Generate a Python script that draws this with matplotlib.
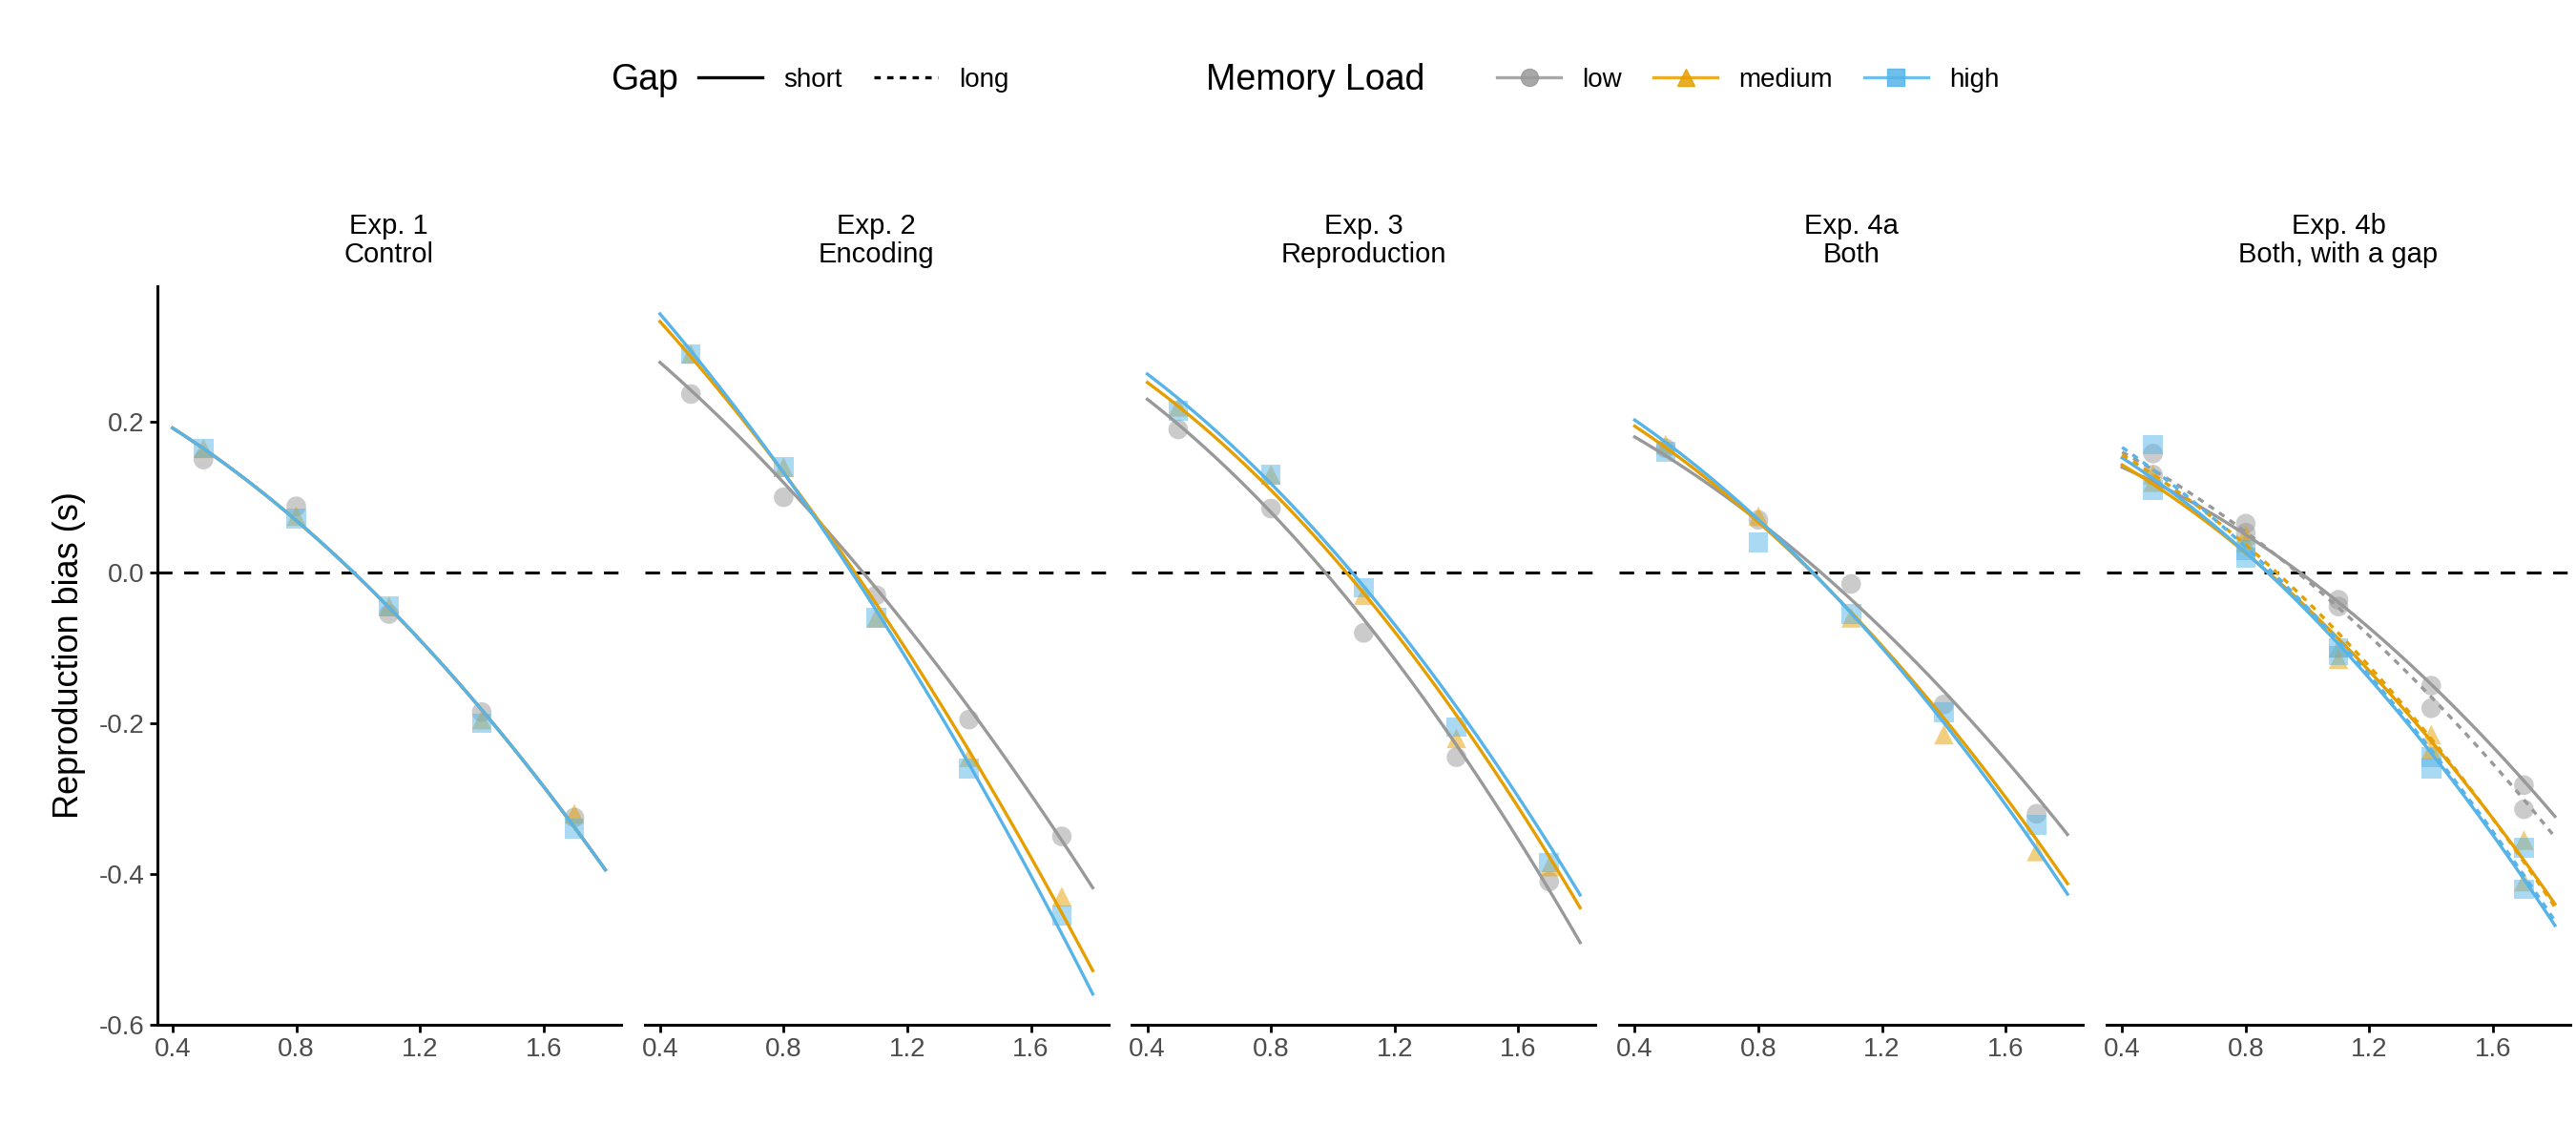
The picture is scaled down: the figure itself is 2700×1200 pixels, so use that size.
import matplotlib
matplotlib.use("Agg")
import matplotlib.pyplot as plt
from matplotlib.lines import Line2D
import numpy as np

plt.rcParams['font.family'] = ['Liberation Sans', 'DejaVu Sans']

titles = ["Exp. 1\nControl", "Exp. 2\nEncoding", "Exp. 3\nReproduction", "Exp. 4a\nBoth", "Exp. 4b\nBoth, with a gap"]
px = [0.5, 0.8, 1.1, 1.4, 1.7]
cx = [0.4, 0.6, 0.8, 1.0, 1.2, 1.4, 1.6, 1.8]
loads = ["low", "medium", "high"]
colors = {"low": "#999999", "medium": "#E69F00", "high": "#56B4E9"}
markers = {"low": "o", "medium": "^", "high": "s"}

# points[panel][gap][load]
points = [
    {"short": {"low": [0.15, 0.088, -0.055, -0.185, -0.325],
               "medium": [0.165, 0.075, -0.045, -0.195, -0.32],
               "high": [0.165, 0.072, -0.045, -0.20, -0.34]}},
    {"short": {"low": [0.237, 0.10, -0.03, -0.195, -0.35],
               "medium": [0.29, 0.14, -0.06, -0.245, -0.43],
               "high": [0.29, 0.14, -0.06, -0.26, -0.455]}},
    {"short": {"low": [0.19, 0.085, -0.08, -0.245, -0.41],
               "medium": [0.22, 0.13, -0.03, -0.22, -0.39],
               "high": [0.215, 0.13, -0.02, -0.205, -0.385]}},
    {"short": {"low": [0.165, 0.07, -0.015, -0.175, -0.32],
               "medium": [0.17, 0.075, -0.06, -0.215, -0.37],
               "high": [0.16, 0.04, -0.055, -0.185, -0.335]}},
    {"short": {"low": [0.158, 0.065, -0.036, -0.15, -0.282],
               "medium": [0.12, 0.04, -0.10, -0.215, -0.355],
               "high": [0.17, 0.02, -0.10, -0.245, -0.365]},
     "long": {"low": [0.13, 0.053, -0.045, -0.18, -0.314],
              "medium": [0.13, 0.05, -0.115, -0.235, -0.41],
              "high": [0.11, 0.03, -0.11, -0.26, -0.42]}},
]
curves = [
    {"short": {"low": [0.183, 0.14, 0.078, 0.0, -0.09, -0.19, -0.30, -0.38],
               "medium": [0.183, 0.14, 0.078, 0.0, -0.09, -0.19, -0.30, -0.38],
               "high": [0.183, 0.14, 0.078, 0.0, -0.09, -0.19, -0.30, -0.38]}},
    {"short": {"low": [0.28, 0.20, 0.12, 0.03, -0.07, -0.18, -0.30, -0.415],
               "medium": [0.33, 0.24, 0.135, 0.02, -0.105, -0.24, -0.38, -0.525],
               "high": [0.34, 0.245, 0.135, 0.015, -0.115, -0.26, -0.405, -0.555]}},
    {"short": {"low": [0.23, 0.16, 0.08, -0.01, -0.115, -0.23, -0.355, -0.49],
               "medium": [0.25, 0.19, 0.11, 0.02, -0.08, -0.19, -0.31, -0.445],
               "high": [0.26, 0.20, 0.12, 0.03, -0.07, -0.18, -0.30, -0.425]}},
    {"short": {"low": [0.175, 0.135, 0.07, 0.0, -0.075, -0.16, -0.25, -0.345],
               "medium": [0.19, 0.14, 0.07, -0.01, -0.10, -0.195, -0.30, -0.41],
               "high": [0.20, 0.145, 0.07, -0.01, -0.10, -0.20, -0.31, -0.425]}},
    {"short": {"low": [0.142, 0.097, 0.049, -0.008, -0.073, -0.146, -0.231, -0.325],
               "medium": [0.14, 0.09, 0.03, -0.045, -0.13, -0.23, -0.33, -0.435],
               "high": [0.15, 0.095, 0.03, -0.05, -0.14, -0.245, -0.35, -0.465]},
     "long": {"low": [0.16, 0.11, 0.055, -0.01, -0.085, -0.165, -0.255, -0.35],
              "medium": [0.155, 0.10, 0.04, -0.035, -0.125, -0.225, -0.33, -0.44],
              "high": [0.165, 0.105, 0.035, -0.045, -0.135, -0.24, -0.345, -0.46]}},
]
ls = {"short": "-", "long": (0, (2, 2))}

fig = plt.figure(figsize=(27, 12), dpi=100)
left0, w, step = 0.061, 0.18, 0.1892
for i in range(5):
    ax = fig.add_axes([left0 + i * step, 0.105, w, 0.645])
    ax.axhline(0, color="black", ls=(0, (5, 4)), lw=2.2, zorder=1)
    for gap in points[i]:
        for ld in loads:
            ax.scatter(px, points[i][gap][ld], marker=markers[ld], s=220,
                       color=colors[ld], alpha=0.5, edgecolors="none", zorder=2)
    for gap in curves[i]:
        for ld in loads:
            z = np.polyfit(cx, curves[i][gap][ld], 2)
            xs = np.linspace(cx[0], cx[-1], 100)
            ax.plot(xs, np.polyval(z, xs), color=colors[ld], ls=ls[gap], lw=2.4, zorder=3)
    ax.set_xlim(0.35, 1.85)
    ax.set_ylim(-0.6, 0.38)
    ax.set_xticks([0.4, 0.8, 1.2, 1.6])
    ax.set_yticks([-0.6, -0.4, -0.2, 0.0, 0.2])
    ax.set_yticklabels(["-0.6", "-0.4", "-0.2", "0.0", "0.2"])
    for s in ["top", "right"]:
        ax.spines[s].set_visible(False)
    ax.spines["bottom"].set_linewidth(2.2)
    ax.spines["left"].set_linewidth(2.2)
    ax.tick_params(labelsize=20, labelcolor="#4d4d4d", color="black", width=2, length=6)
    if i > 0:
        ax.spines["left"].set_visible(False)
        ax.set_yticks([])
    else:
        ax.set_ylabel("Reproduction bias (s)", fontsize=26, labelpad=10)
    ax.set_title(titles[i], fontsize=21, pad=18, linespacing=1.1)

ly = 0.93
fig.text(0.237, ly, "Gap", fontsize=27, ha="left", va="center")
h1 = [Line2D([], [], color="black", lw=2.4, ls=ls[g]) for g in ["short", "long"]]
fig.legend(h1, ["short", "long"], loc="center left", bbox_to_anchor=(0.262, ly),
           ncol=2, frameon=False, fontsize=20, handlelength=2.4, columnspacing=1.2)
fig.text(0.468, ly, "Memory Load", fontsize=27, ha="left", va="center")
h2 = [Line2D([], [], color=colors[l], marker=markers[l], lw=2.4, markersize=13, alpha=0.85) for l in loads]
fig.legend(h2, loads, loc="center left", bbox_to_anchor=(0.572, ly),
           ncol=3, frameon=False, fontsize=20, handlelength=2.4, columnspacing=1.2)
fig.savefig("out.png", dpi=100)
